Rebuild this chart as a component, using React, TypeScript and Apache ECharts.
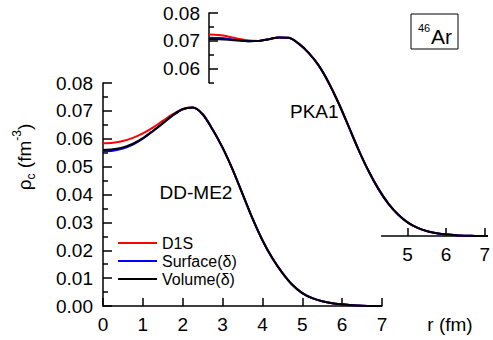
import React, { useEffect, useRef } from "react";
import * as echarts from "echarts";

// radius grid (fm)
const r = [0, 0.25, 0.5, 0.75, 1.0, 1.25, 1.5, 1.75, 2.0, 2.25, 2.5, 2.75, 3.0, 3.25, 3.5, 3.75, 4.0, 4.25, 4.5, 4.75, 5.0, 5.25, 5.5, 5.75, 6.0, 6.25, 6.5, 6.75, 7.0];

// DD-ME2 (main panel)
const meD1S = [0.0584, 0.0586, 0.0592, 0.0603, 0.0619, 0.0640, 0.0664, 0.0688, 0.0707, 0.0712, 0.0688, 0.0633, 0.0568, 0.0490, 0.0402, 0.0314, 0.0236, 0.0171, 0.0119, 0.0076, 0.0046, 0.0028, 0.0017, 0.0010, 0.0006, 0.0003, 0.0001, 0.0, 0.0];
const meSurf = [0.0555, 0.0557, 0.0565, 0.0579, 0.0600, 0.0627, 0.0655, 0.0684, 0.0706, 0.0712, 0.0688, 0.0633, 0.0568, 0.0490, 0.0402, 0.0314, 0.0236, 0.0171, 0.0119, 0.0076, 0.0046, 0.0028, 0.0017, 0.0010, 0.0006, 0.0003, 0.0001, 0.0, 0.0];
const meVol = [0.0560, 0.0562, 0.0569, 0.0582, 0.0602, 0.0628, 0.0656, 0.0684, 0.0706, 0.0712, 0.0688, 0.0633, 0.0568, 0.0490, 0.0402, 0.0314, 0.0236, 0.0171, 0.0119, 0.0076, 0.0046, 0.0028, 0.0017, 0.0010, 0.0006, 0.0003, 0.0001, 0.0, 0.0];

// PKA1 (shifted panel)
const pkD1S = [0.0723, 0.0721, 0.0715, 0.0707, 0.0701, 0.0700, 0.0706, 0.0712, 0.0711, 0.0690, 0.0657, 0.0612, 0.0551, 0.0477, 0.0394, 0.0310, 0.0234, 0.0169, 0.0116, 0.0076, 0.0047, 0.0028, 0.0016, 0.0009, 0.0005, 0.0002, 0.0001, 0.0, 0.0];
const pkSurf = [0.0711, 0.0710, 0.0707, 0.0702, 0.0699, 0.0700, 0.0706, 0.0712, 0.0711, 0.0690, 0.0657, 0.0612, 0.0551, 0.0477, 0.0394, 0.0310, 0.0234, 0.0169, 0.0116, 0.0076, 0.0047, 0.0028, 0.0016, 0.0009, 0.0005, 0.0002, 0.0001, 0.0, 0.0];
const pkVol = [0.0707, 0.0706, 0.0704, 0.0701, 0.0699, 0.0700, 0.0706, 0.0712, 0.0711, 0.0690, 0.0657, 0.0612, 0.0551, 0.0477, 0.0394, 0.0310, 0.0234, 0.0169, 0.0116, 0.0076, 0.0047, 0.0028, 0.0016, 0.0009, 0.0005, 0.0002, 0.0001, 0.0, 0.0];

const seriesNames = ["D1S", "Surface(δ)", "Volume(δ)"];
const seriesColors = ["#ff0000", "#0000ff", "#000000"];

const mainXTicks = [0, 1, 2, 3, 4, 5, 6, 7];
const insetXTicks = [5, 6, 7];
const insetYTicks = [0.06, 0.07, 0.08];
const insetYMinor = [0.055, 0.065, 0.075];

const FONT = "Liberation Sans, Arial, Helvetica, sans-serif";

export default function App() {
  const ref = useRef<HTMLDivElement>(null);
  useEffect(() => {
    if (!ref.current) return;
    const chart = echarts.init(ref.current, null, { renderer: "svg" });

    const ML = 103, MT = 83, W = 279, H = 223;
    const IL = 209, IT = 13;
    const pxPerR = W / 7;
    const pxPerRho = H / 0.08;
    const insetXMin = 4.33;
    const insetYMin = 0.055;

    const axisLineStyle = { color: "#000", width: 1.5 };
    const labelStyle = { color: "#000", fontSize: 19, fontFamily: FONT };

    const mk = (d: number[]) => r.map((x, i) => [x, d[i]]);
    const line = (name: string, color: string, d: number[], idx: number) => ({
      type: "line",
      name,
      data: mk(d),
      xAxisIndex: idx,
      yAxisIndex: idx,
      showSymbol: false,
      symbol: "none",
      smooth: 0.3,
      lineStyle: { color, width: 2 },
      itemStyle: { color },
      z: 3,
    });

    const option: any = {
      animation: false,
      backgroundColor: "#fff",
      grid: [
        { left: ML, top: MT, width: W, height: H },
        { left: IL, top: IT, width: W, height: H },
        { left: IL + insetXMin * pxPerR, top: IT, width: W - insetXMin * pxPerR, height: H },
        { left: IL, top: IT, width: W, height: (0.08 - insetYMin) * pxPerRho },
      ],
      xAxis: [
        {
          gridIndex: 0, type: "value", min: 0, max: 7, interval: 1,
          axisLine: { show: true, lineStyle: axisLineStyle },
          axisTick: { show: true, inside: true, length: 8, lineStyle: axisLineStyle, customValues: mainXTicks },
          axisLabel: { ...labelStyle, margin: 9, customValues: mainXTicks },
          splitLine: { show: false },
        },
        { gridIndex: 1, type: "value", min: 0, max: 7, show: false },
        {
          gridIndex: 2, type: "value", min: insetXMin, max: 7,
          axisLine: { show: true, lineStyle: axisLineStyle },
          axisTick: { show: true, inside: true, length: 8, lineStyle: axisLineStyle, customValues: insetXTicks },
          axisLabel: { ...labelStyle, margin: 9, customValues: insetXTicks },
          splitLine: { show: false },
        },
        { gridIndex: 3, type: "value", min: 0, max: 7, show: false },
      ],
      yAxis: [
        {
          gridIndex: 0, type: "value", min: 0, max: 0.08, interval: 0.01, position: "left",
          axisLine: { show: true, lineStyle: axisLineStyle },
          axisTick: { show: true, inside: true, length: 9, lineStyle: axisLineStyle },
          minorTick: { show: true, splitNumber: 2, length: 5, lineStyle: axisLineStyle },
          axisLabel: { ...labelStyle, margin: 10, formatter: (v: number) => v.toFixed(2) },
          splitLine: { show: false },
          minorSplitLine: { show: false },
        },
        { gridIndex: 1, type: "value", min: 0, max: 0.08, show: false },
        { gridIndex: 2, type: "value", min: 0, max: 0.08, show: false },
        {
          gridIndex: 3, type: "value", min: insetYMin, max: 0.08, position: "left", offset: 0,
          axisLine: { show: true, lineStyle: axisLineStyle },
          axisTick: { show: true, inside: true, length: 9, lineStyle: axisLineStyle, customValues: insetYTicks },
          axisLabel: { ...labelStyle, margin: 9, customValues: insetYTicks, formatter: (v: number) => v.toFixed(2) },
          splitLine: { show: false },
        },
        {
          gridIndex: 3, type: "value", min: insetYMin, max: 0.08, position: "left", offset: 0,
          axisLine: { show: false },
          axisTick: { show: true, inside: true, length: 5, lineStyle: axisLineStyle, customValues: insetYMinor },
          axisLabel: { show: false },
          splitLine: { show: false },
        },
      ],
      legend: {
        orient: "vertical",
        left: 118,
        top: 235,
        icon: "rect",
        itemWidth: 39,
        itemHeight: 2,
        itemGap: 2,
        padding: 0,
        data: seriesNames,
        textStyle: { color: "#000", fontSize: 16, fontFamily: FONT, padding: [0, 0, 0, 0] },
        selectedMode: false,
      },
      series: [
        ...seriesNames.map((n, i) => line(n, seriesColors[i], [meD1S, meSurf, meVol][i], 0)),
        ...seriesNames.map((n, i) => line(n, seriesColors[i], [pkD1S, pkSurf, pkVol][i], 1)),
      ],
      graphic: [
        {
          type: "text", x: 24, y: 157, rotation: Math.PI / 2,
          style: {
            text: "{a|ρ}{sub|c}{a| (fm}{sup|-3}{a|)}",
            align: "center", verticalAlign: "middle",
            rich: {
              a: { fontSize: 19, fontFamily: FONT, fill: "#000", lineHeight: 26 },
              sub: { fontSize: 12, fontFamily: FONT, fill: "#000", lineHeight: 12, verticalAlign: "bottom" },
              sup: { fontSize: 12, fontFamily: FONT, fill: "#000", lineHeight: 12, verticalAlign: "top" },
            },
          },
        },
        { type: "text", x: 450, y: 324, style: { text: "r (fm)", fontSize: 19, fontFamily: FONT, fill: "#000", align: "center", verticalAlign: "middle" } },
        { type: "text", x: 196, y: 192, style: { text: "DD-ME2", fontSize: 19, fontFamily: FONT, fill: "#000", align: "center", verticalAlign: "middle" } },
        { type: "text", x: 290, y: 111, style: { text: "PKA1", fontSize: 19, fontFamily: FONT, fill: "#000", align: "left", verticalAlign: "middle" } },
        { type: "rect", shape: { x: 411, y: 14, width: 47, height: 35 }, style: { fill: "#fff", stroke: "#000", lineWidth: 1 } },
        { type: "text", x: 418, y: 28, style: { text: "46", fontSize: 11, fontFamily: FONT, fill: "#000", align: "left", verticalAlign: "middle" } },
        { type: "text", x: 431, y: 36, style: { text: "Ar", fontSize: 21, fontFamily: FONT, fill: "#000", align: "left", verticalAlign: "middle" } },
      ],
    };
    chart.setOption(option);
    return () => chart.dispose();
  }, []);
  return <div ref={ref} style={{ position: "fixed", left: 0, top: 0, width: 493, height: 340 }} />;
}
